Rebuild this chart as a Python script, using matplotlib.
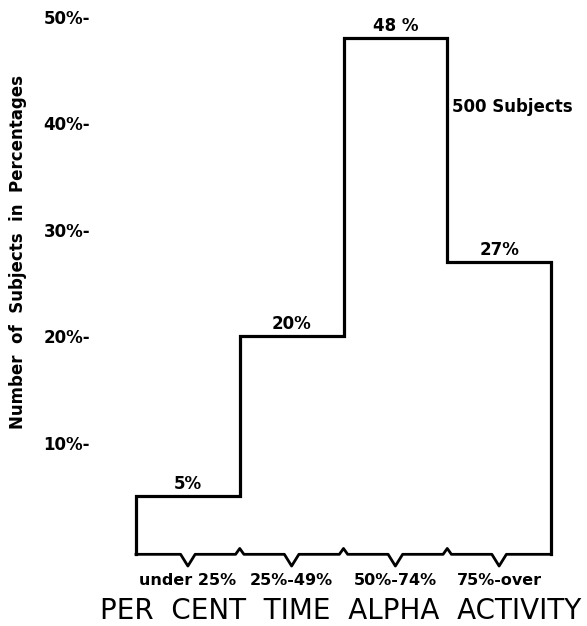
import numpy as np
import matplotlib.pyplot as plt

# bins of per cent time alpha activity
categories = ['under 25%', '25%-49%', '50%-74%', '75%-over']
percent = [5, 20, 48, 27]
value_labels = ['5%', '20%', '48 %', '27%']
y_ticks = [10, 20, 30, 40, 50]
y_tick_labels = ['10%-', '20%-', '30%-', '40%-', '50%-']

fig = plt.figure(figsize=(5.87, 6.26), dpi=100)
ax = fig.add_axes([136 / 587, 77 / 626, 415 / 587, 532 / 626])

n = len(percent)
edges = np.arange(n + 1)
base = -0.5

# step outline
xs = [edges[0]]
ys = [base]
for i, v in enumerate(percent):
    xs += [edges[i], edges[i + 1]]
    ys += [v, v]
xs.append(edges[-1])
ys.append(base)
ax.plot(xs, ys, color='black', lw=2.3, solid_joinstyle='miter', clip_on=False)

# baseline with brace marks: dips at bin centres, bumps at inner edges
bx, by = [edges[0]], [base]
for i in range(n):
    l, r = edges[i], edges[i + 1]
    c = (l + r) / 2
    bx += [c - 0.07, c, c + 0.07]
    by += [base, base - 1.1, base]
    if i < n - 1:
        bx += [r - 0.04, r, r + 0.04]
        by += [base, base + 0.55, base]
bx.append(edges[-1])
by.append(base)
ax.plot(bx, by, color='black', lw=2.0, clip_on=False)

for i, (v, t) in enumerate(zip(percent, value_labels)):
    ax.text(i + 0.5, v + 0.3, t, ha='center', va='bottom',
            fontsize=12, fontweight='bold')

ax.text(3.05, 41.5, '500 Subjects', ha='left', va='center',
        fontsize=12, fontweight='bold')

for i, c in enumerate(categories):
    ax.text(i + 0.5, -2.3, c, ha='center', va='top',
            fontsize=11.5, fontweight='bold')

ax.set_xlim(0, n)
ax.set_ylim(0, 50)
ax.set_xticks([])
ax.set_yticks(y_ticks)
ax.set_yticklabels(y_tick_labels, fontsize=12, fontweight='bold')
ax.tick_params(axis='y', length=0, pad=33)
for s in ax.spines.values():
    s.set_visible(False)

fig.text(18 / 587, 1 - 252 / 626, 'Number  of  Subjects  in  Percentages',
         rotation=90, ha='center', va='center', fontsize=12, fontweight='bold')
fig.text(341 / 587, 1 - 611 / 626, 'PER  CENT  TIME  ALPHA  ACTIVITY',
         ha='center', va='center', fontsize=20)

fig.savefig('out.png', dpi=100)
